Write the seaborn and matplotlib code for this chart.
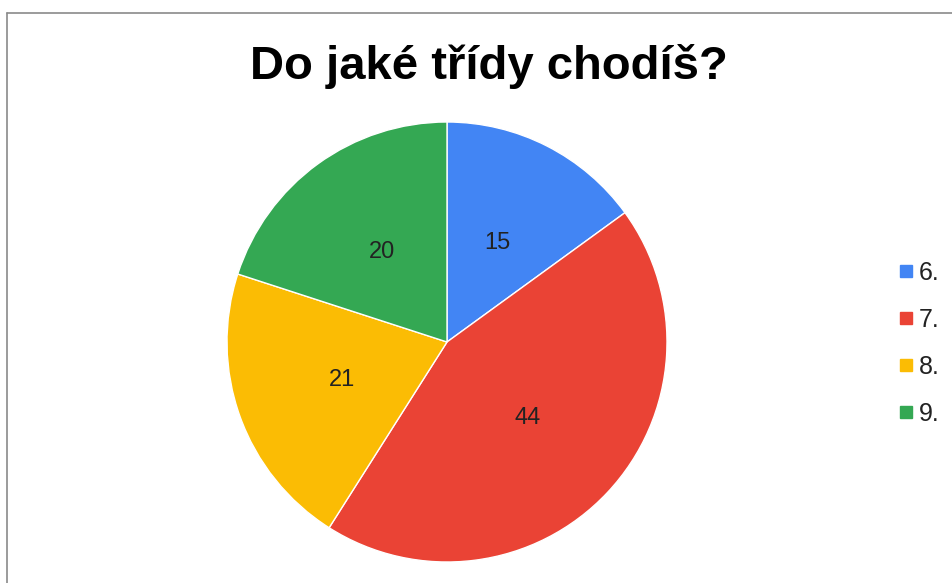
import matplotlib
matplotlib.use("Agg")
import matplotlib.pyplot as plt
import seaborn as sns
from matplotlib.lines import Line2D

categories = ["6.", "7.", "8.", "9."]
values = [15, 44, 21, 20]
colors = ["#4285F4", "#EA4335", "#FBBC04", "#34A853"]
title = "Do jaké třídy chodíš?"

sns.set_theme(style="white")
plt.rcParams["font.family"] = ["Liberation Sans", "DejaVu Sans"]

fig = plt.figure(figsize=(9.53, 5.83), dpi=100)
fig.patch.set_facecolor("white")

# frame lines (top and left border)
fig.add_artist(Line2D([7/953, 1], [1 - 13/583, 1 - 13/583], color="#8a8a8a", lw=1.2))
fig.add_artist(Line2D([7.5/953, 7.5/953], [0, 1 - 13/583], color="#8a8a8a", lw=1.2))

ax = fig.add_axes([(447 - 220) / 953, (583 - 342 - 220) / 583, 440 / 953, 440 / 583])
total = sum(values)
wedges, texts, autotexts = ax.pie(
    values,
    colors=colors,
    startangle=90,
    counterclock=False,
    autopct=lambda p: f"{round(p * total / 100)}",
    pctdistance=0.505,
    wedgeprops=dict(linewidth=1, edgecolor="white"),
    textprops=dict(fontsize=17, color="#222222"),
)
ax.set_xlim(-1, 1)
ax.set_ylim(-1, 1)
ax.set_aspect("equal")
ax.axis("off")

fig.text(489 / 953, 1 - 79 / 583, title, ha="center", va="baseline",
         fontsize=34, fontweight="bold", color="black")

handles = [Line2D([0], [0], marker="s", linestyle="none", markersize=8,
                  markerfacecolor=c, markeredgecolor=c) for c in colors]
leg = fig.legend(handles, categories, loc="upper left",
                 bbox_to_anchor=(900 / 953, 1 - 261 / 583),
                 frameon=False, fontsize=18, labelspacing=0.92,
                 handlelength=0.47, handletextpad=0.3, borderpad=0,
                 borderaxespad=0)
for t in leg.get_texts():
    t.set_color("#222222")

fig.savefig("out.png", dpi=100, facecolor="white")
